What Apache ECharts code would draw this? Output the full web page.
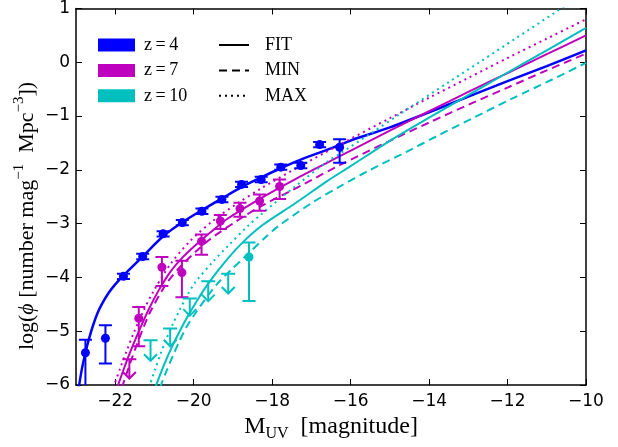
<!DOCTYPE html>
<html><head><meta charset="utf-8">
<script src="https://cdn.jsdelivr.net/npm/echarts@6/dist/echarts.min.js"></script>
<style>html,body{margin:0;padding:0;background:#fff}#c{width:618px;height:447px}</style>
</head><body><div id="c"></div>
<script>
// ---------- data ----------
const xTicks = [-22, -20, -18, -16, -14, -12, -10];
const yTicks = [-6, -5, -4, -3, -2, -1, 0, 1];

// z=4 measurements
const z4M   = [-22.76, -22.25, -21.79, -21.30, -20.78, -20.29, -19.79, -19.28, -18.78, -18.28, -17.78, -17.27, -16.79, -16.28];
const z4Phi = [-5.40, -5.13, -3.98, -3.61, -3.19, -2.98, -2.77, -2.55, -2.27, -2.18, -1.95, -1.92, -1.53, -1.58];
const z4Hi  = [-5.16, -4.89, -3.93, -3.56, -3.14, -2.93, -2.72, -2.50, -2.22, -2.13, -1.90, -1.87, -1.48, -1.43];
const z4Lo  = [-6.30, -5.60, -4.03, -3.66, -3.24, -3.03, -2.82, -2.60, -2.32, -2.23, -2.00, -1.97, -1.58, -1.87];

// z=7 measurements
const z7M   = [-21.40, -20.81, -20.30, -19.80, -19.32, -18.82, -18.32, -17.81];
const z7Phi = [-4.76, -3.81, -3.91, -3.33, -2.95, -2.72, -2.58, -2.31];
const z7Hi  = [-4.55, -3.62, -3.69, -3.20, -2.84, -2.61, -2.46, -2.18];
const z7Lo  = [-5.28, -4.16, -4.37, -3.58, -3.10, -2.87, -2.76, -2.54];
const z7LimM   = [-21.64];
const z7LimCap = [-5.52];
const z7LimTip = [-5.88];

// z=10 measurements
const z10M   = [-18.59];
const z10Phi = [-3.62];
const z10Hi  = [-3.35];
const z10Lo  = [-4.44];
const z10LimM   = [-21.10, -20.60, -20.10, -19.63, -19.12];
const z10LimCap = [-5.17, -4.95, -4.39, -4.07, -3.93];
const z10LimTip = [-5.55, -5.28, -4.71, -4.44, -4.30];

// curves [M, log phi]
const fitZ4 = [[-22.93,-6.05],[-22.85,-5.70],[-22.76,-5.40],[-22.66,-5.12],[-22.56,-4.88],[-22.45,-4.66],[-22.32,-4.47],[-22.17,-4.29],[-22.00,-4.13],[-21.80,-3.97],[-21.55,-3.79],[-21.30,-3.61],[-20.77,-3.23],[-20.28,-2.97],[-19.77,-2.74],[-19.28,-2.53],[-18.78,-2.32],[-18.28,-2.14],[-17.78,-1.97],[-17.27,-1.81],[-16.50,-1.60],[-16.02,-1.46],[-15.00,-1.21],[-14.00,-0.93],[-13.00,-0.64],[-12.00,-0.35],[-11.00,-0.07],[-10.00,0.22]];
const fitZ7 = [[-21.95,-6.05],[-21.80,-5.74],[-21.62,-5.39],[-21.41,-5.02],[-21.15,-4.60],[-20.90,-4.25],[-20.60,-3.90],[-20.30,-3.64],[-19.97,-3.41],[-19.60,-3.18],[-19.12,-2.90],[-18.27,-2.52],[-17.43,-2.18],[-16.58,-1.86],[-16.02,-1.65],[-15.00,-1.27],[-14.00,-0.91],[-13.00,-0.55],[-12.00,-0.20],[-11.00,0.15],[-10.00,0.50]];
const minZ7 = [[-21.83,-6.05],[-21.66,-5.68],[-21.45,-5.25],[-21.28,-4.93],[-21.10,-4.63],[-20.70,-4.12],[-20.30,-3.77],[-19.60,-3.30],[-18.90,-2.95],[-18.27,-2.67],[-17.23,-2.28],[-16.30,-1.92],[-15.00,-1.46],[-14.00,-1.12],[-13.00,-0.79],[-12.00,-0.47],[-11.00,-0.15],[-10.00,0.16]];
const maxZ7 = [[-22.05,-6.05],[-21.88,-5.70],[-21.70,-5.35],[-21.55,-5.07],[-21.30,-4.65],[-21.05,-4.29],[-20.60,-3.76],[-20.10,-3.33],[-19.50,-2.94],[-18.90,-2.63],[-18.27,-2.34],[-17.43,-1.99],[-16.30,-1.54],[-15.00,-1.04],[-14.00,-0.66],[-13.00,-0.29],[-12.00,0.08],[-11.00,0.44],[-10.00,0.80]];
const fitZ10 = [[-20.98,-6.05],[-20.84,-5.78],[-20.70,-5.53],[-20.56,-5.30],[-20.35,-4.99],[-20.14,-4.71],[-19.92,-4.44],[-19.71,-4.20],[-19.30,-3.80],[-18.82,-3.40],[-18.27,-3.04],[-17.43,-2.63],[-16.58,-2.20],[-16.02,-1.94],[-15.00,-1.46],[-14.00,-1.03],[-13.00,-0.61],[-12.00,-0.19],[-11.00,0.22],[-10.00,0.64]];
const minZ10 = [[-20.86,-6.05],[-20.70,-5.75],[-20.52,-5.44],[-20.36,-5.18],[-20.19,-4.93],[-19.97,-4.68],[-19.70,-4.40],[-19.40,-4.12],[-19.05,-3.86],[-18.70,-3.62],[-18.15,-3.24],[-17.85,-3.05],[-17.00,-2.62],[-16.28,-2.31],[-15.50,-2.00],[-14.59,-1.67],[-13.74,-1.35],[-12.89,-1.04],[-11.90,-0.68],[-10.86,-0.32],[-10.00,-0.01]];
const maxZ10 = [[-21.14,-6.05],[-20.98,-5.70],[-20.84,-5.41],[-20.70,-5.15],[-20.52,-4.85],[-20.35,-4.59],[-20.16,-4.33],[-19.97,-4.10],[-19.50,-3.70],[-19.12,-3.41],[-18.60,-3.03],[-18.27,-2.82],[-17.40,-2.30],[-16.58,-1.84],[-16.30,-1.71],[-15.50,-1.33],[-14.76,-0.97],[-13.48,-0.36],[-12.72,0.00],[-11.80,0.44],[-10.82,0.91],[-10.00,1.30]];

// ---------- styling ----------
const BLUE = '#0000ff', MAG = '#bf00bf', CYAN = '#00bfbf';
const DASH = [8, 5], DOT = [2, 4];
const N4 = 'z\u2009=\u20094', N7 = 'z\u2009=\u20097', N10 = 'z\u2009=\u200910';
const minus = v => (v < 0 ? '\u2212' : '') + Math.abs(v);

function errRender(params, api) {
  const x = api.value(0), lo = api.value(1), hi = api.value(2);
  const pt = api.coord([x, hi]), pb = api.coord([x, lo]);
  const w = 6.5;
  const st = { stroke: api.visual('color'), lineWidth: 2 };
  return { type: 'group', children: [
    { type: 'line', shape: { x1: pt[0], y1: pt[1], x2: pb[0], y2: pb[1] }, style: st },
    { type: 'line', shape: { x1: pt[0] - w, y1: pt[1], x2: pt[0] + w, y2: pt[1] }, style: st },
    { type: 'line', shape: { x1: pb[0] - w, y1: pb[1], x2: pb[0] + w, y2: pb[1] }, style: st }
  ]};
}
function limRender(params, api) {
  const x = api.value(0), cap = api.value(1), tip = api.value(2);
  const pc = api.coord([x, cap]), pt = api.coord([x, tip]);
  const w = 7, ah = 6.5;
  const st = { stroke: api.visual('color'), lineWidth: 2, fill: null };
  return { type: 'group', children: [
    { type: 'line', shape: { x1: pc[0] - w, y1: pc[1], x2: pc[0] + w, y2: pc[1] }, style: st },
    { type: 'line', shape: { x1: pc[0], y1: pc[1], x2: pt[0], y2: pt[1] }, style: st },
    { type: 'polyline', shape: { points: [[pt[0] - ah, pt[1] - ah], [pt[0], pt[1]], [pt[0] + ah, pt[1] - ah]] }, style: st }
  ]};
}
const pairs = (a, b) => a.map((m, i) => [m, b[i]]);
const triples = (a, b, c) => a.map((m, i) => [m, b[i], c[i]]);

function curve(data, color, type, width) {
  return { type: 'line', data: data, symbol: 'none', smooth: 0.3, clip: true,
    lineStyle: { color: color, width: width || 2, type: type }, itemStyle: { color: color },
    silent: true, z: 2, legendHoverLink: false };
}
function errSeries(data, color) {
  return { type: 'custom', renderItem: errRender, data: data, clip: true, itemStyle: { color: color },
    encode: { x: 0, y: [1, 2] }, z: 3, silent: true };
}
function limSeries(data, color) {
  return { type: 'custom', renderItem: limRender, data: data, clip: true, itemStyle: { color: color },
    encode: { x: 0, y: [1, 2] }, z: 3, silent: true };
}

const serif = 'Liberation Serif';
const axisLine = { show: true, onZero: false, lineStyle: { color: '#000', width: 1.5 } };
const option = {
  animation: false,
  backgroundColor: '#fff',
  grid: { left: 76, right: 32, top: 8, bottom: 54 },
  graphic: [{
    type: 'text', x: 27, y: 216, rotation: Math.PI / 2, silent: true,
    style: {
      text: '{a|log(}{p|\u03d5}{a| [number mag}{s|\u22121}{a|  Mpc}{s|\u22123}{a|])}',
      align: 'center', verticalAlign: 'middle', fill: '#000',
      rich: {
        a: { fontFamily: serif, fontSize: 22, lineHeight: 30, fill: '#000' },
        p: { fontFamily: serif, fontSize: 22, fontStyle: 'italic', fill: '#000' },
        s: { fontFamily: serif, fontSize: 15, verticalAlign: 'top', fill: '#000' }
      }
    }
  }],
  xAxis: [
    { type: 'value', position: 'bottom', min: -23, max: -10, axisLine: axisLine,
      axisTick: { show: true, inside: true, length: 6, customValues: xTicks, lineStyle: { color: '#000', width: 1 } },
      axisLabel: { customValues: xTicks, formatter: minus, color: '#000', fontSize: 17, fontFamily: 'DejaVu Sans', margin: 8 },
      splitLine: { show: false },
      name: '{a|M}{b|UV}{a|  [magnitude]}', nameLocation: 'middle', nameGap: 27,
      nameTextStyle: { color: '#000', rich: {
        a: { fontFamily: serif, fontSize: 24, lineHeight: 30, color: '#000' },
        b: { fontFamily: serif, fontSize: 16, verticalAlign: 'bottom', color: '#000' } } } },
    { type: 'value', position: 'top', min: -23, max: -10, axisLine: axisLine,
      axisTick: { show: true, inside: true, length: 6, customValues: xTicks, lineStyle: { color: '#000', width: 1 } },
      axisLabel: { show: false }, splitLine: { show: false } }
  ],
  yAxis: [
    { type: 'value', position: 'left', min: -6, max: 1, interval: 1, axisLine: axisLine,
      axisTick: { show: true, inside: true, length: 6, lineStyle: { color: '#000', width: 1 } },
      axisLabel: { formatter: minus, color: '#000', fontSize: 17, fontFamily: 'DejaVu Sans', margin: 6 },
      splitLine: { show: false } },
    { type: 'value', position: 'right', min: -6, max: 1, interval: 1, axisLine: axisLine,
      axisTick: { show: true, inside: true, length: 6, lineStyle: { color: '#000', width: 1 } },
      axisLabel: { show: false }, splitLine: { show: false } }
  ],
  legend: [
    { data: [N4, N7, N10], icon: 'rect', orient: 'vertical', left: 93, top: 31,
      itemWidth: 37, itemHeight: 13, itemGap: 7.4, selectedMode: false,
      textStyle: { fontFamily: serif, fontSize: 18, color: '#000', padding: [0, 0, 0, 4] } },
    { data: ['FIT', 'MIN', 'MAX'], orient: 'vertical', left: 213, top: 31,
      itemWidth: 30, itemHeight: 13, itemGap: 7.4, selectedMode: false,
      itemStyle: { color: 'rgba(0,0,0,0)', borderColor: 'rgba(0,0,0,0)', borderWidth: 0, opacity: 0 },
      textStyle: { fontFamily: serif, fontSize: 18, color: '#000', padding: [0, 0, 0, 11] } }
  ],
  series: [
    curve(fitZ4, BLUE, 'solid', 2.5),
    curve(fitZ7, MAG, 'solid'), curve(minZ7, MAG, DASH), curve(maxZ7, MAG, DOT),
    curve(fitZ10, CYAN, 'solid'), curve(minZ10, CYAN, DASH), curve(maxZ10, CYAN, DOT),
    errSeries(triples(z4M, z4Lo, z4Hi), BLUE),
    errSeries(triples(z7M, z7Lo, z7Hi), MAG),
    errSeries(triples(z10M, z10Lo, z10Hi), CYAN),
    limSeries(triples(z7LimM, z7LimCap, z7LimTip), MAG),
    limSeries(triples(z10LimM, z10LimCap, z10LimTip), CYAN),
    { name: N4, type: 'scatter', data: pairs(z4M, z4Phi), symbolSize: 9, itemStyle: { color: BLUE, opacity: 1 }, z: 4, silent: true },
    { name: N7, type: 'scatter', data: pairs(z7M, z7Phi), symbolSize: 9, itemStyle: { color: MAG, opacity: 1 }, z: 4, silent: true },
    { name: N10, type: 'scatter', data: pairs(z10M, z10Phi), symbolSize: 9, itemStyle: { color: CYAN, opacity: 1 }, z: 4, silent: true },
    { name: 'FIT', type: 'line', data: [], symbol: 'none', lineStyle: { color: '#000', width: 2, type: 'solid' }, itemStyle: { color: '#000' } },
    { name: 'MIN', type: 'line', data: [], symbol: 'none', lineStyle: { color: '#000', width: 2, type: DASH }, itemStyle: { color: '#000' } },
    { name: 'MAX', type: 'line', data: [], symbol: 'none', lineStyle: { color: '#000', width: 2, type: DOT }, itemStyle: { color: '#000' } }
  ]
};
const chart = echarts.init(document.getElementById('c'), null, { renderer: 'canvas' });
chart.setOption(option);
</script>
</body></html>
